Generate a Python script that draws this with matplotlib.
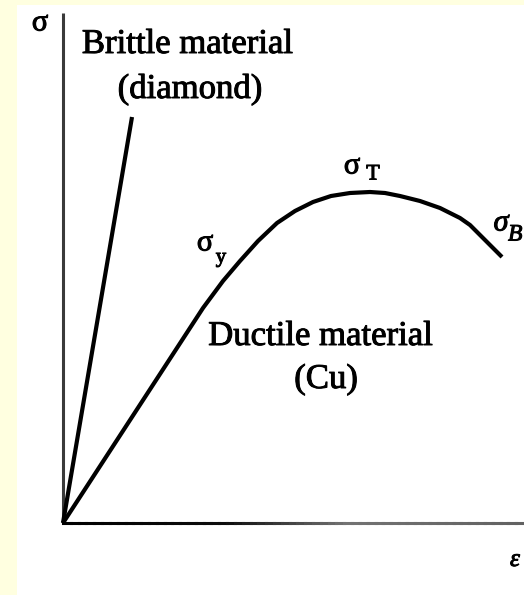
import numpy as np
import matplotlib.pyplot as plt
import matplotlib.patheffects as pe
from matplotlib.collections import LineCollection
from matplotlib.patches import Rectangle

# =========================================================
# Stress-strain sketch: brittle (diamond) vs ductile (Cu)
# arbitrary units, origin at (0, 0)
# =========================================================
plt.rcParams.update({
    "font.family": "Liberation Serif",
    "figure.dpi":  100,
})

BG_OUTER = "#FFFFE0"
INK      = "black"
LW_CURVE = 3.0
LW_AXIS  = 2.2
HEAVY    = [pe.withStroke(linewidth=0.7, foreground="black")]

# brittle material: straight elastic line up to fracture
brittle_strain = [0.0, 0.69]
brittle_stress = [0.0, 4.06]

# ductile material: elastic part, yield, max (sigma_T), break (sigma_B)
ductile_strain = [0.0, 1.40, 1.60, 1.77, 1.95, 2.14, 2.32, 2.50, 2.68,
                  2.87, 3.07, 3.22, 3.37, 3.57, 3.77, 3.97, 4.07, 4.39]
ductile_stress = [0.0, 2.15, 2.42, 2.62, 2.82, 3.00, 3.12, 3.21, 3.27,
                  3.30, 3.31, 3.30, 3.27, 3.22, 3.15, 3.05, 2.98, 2.66]

AXIS_TOP   = 5.10
AXIS_RIGHT = 4.61

# =========================================================
# Figure
# =========================================================
fig = plt.figure(figsize=(5.24, 5.95), facecolor=BG_OUTER)
ax = fig.add_axes([0, 0, 1, 1])
ax.set_xlim(-0.63, 4.61)
ax.set_ylim(-0.72, 5.23)
ax.axis("off")

# white drawing sheet
ax.add_patch(Rectangle((17 / 524, 0), 1 - 17 / 524, 590 / 595,
                       transform=ax.transAxes, facecolor="white",
                       edgecolor="none", zorder=0))

# axes of the diagram
ax.plot([0, 0], [0, AXIS_TOP], color="#3a3a3a", lw=LW_AXIS,
        solid_capstyle="butt", zorder=2)

# strain axis fades from black to grey
xs = np.linspace(0, AXIS_RIGHT, 60)
segs = [[(xs[i], 0), (xs[i + 1], 0)] for i in range(len(xs) - 1)]
grey = np.interp(xs[:-1], [0, 1.6, 2.8, AXIS_RIGHT], [0.0, 0.05, 0.45, 0.38])
lc = LineCollection(segs, colors=[(g, g, g) for g in grey],
                    linewidths=LW_AXIS, capstyle="projecting", zorder=2)
ax.add_collection(lc)

# curves
ax.plot(brittle_strain, brittle_stress, color=INK, lw=LW_CURVE,
        solid_capstyle="butt", zorder=3)
ax.plot(ductile_strain, ductile_stress, color=INK, lw=LW_CURVE,
        solid_joinstyle="round", solid_capstyle="butt", zorder=3)

# =========================================================
# Labels
# =========================================================
def label(x, y, s, size, **kw):
    ax.text(x, y, s, fontsize=size, path_effects=HEAVY, **kw)

label(-0.23, 5.00, "σ", 22, ha="center", va="center")
label(4.47, -0.37, "ε", 18, style="italic", ha="left", va="center")

label(1.25, 4.70, "Brittle material", 25, ha="center", va="baseline")
label(1.27, 4.25, "(diamond)", 25, ha="center", va="baseline")

label(2.58, 1.78, "Ductile material", 25, ha="center", va="baseline")
label(2.63, 1.35, "(Cu)", 25, ha="center", va="baseline")

# sigma_y
label(1.42, 2.80, "σ", 22, ha="center", va="center")
label(1.58, 2.65, "y", 15, ha="center", va="center")
# sigma_T
label(2.89, 3.57, "σ", 22, ha="center", va="center")
label(3.10, 3.48, "T", 16, ha="center", va="center")
# sigma_B
label(4.38, 3.00, "σ", 22, style="italic", ha="center", va="center")
label(4.45, 2.88, "B", 17, style="italic", ha="left", va="center")

fig.savefig("out.png", dpi=100, facecolor=fig.get_facecolor())
